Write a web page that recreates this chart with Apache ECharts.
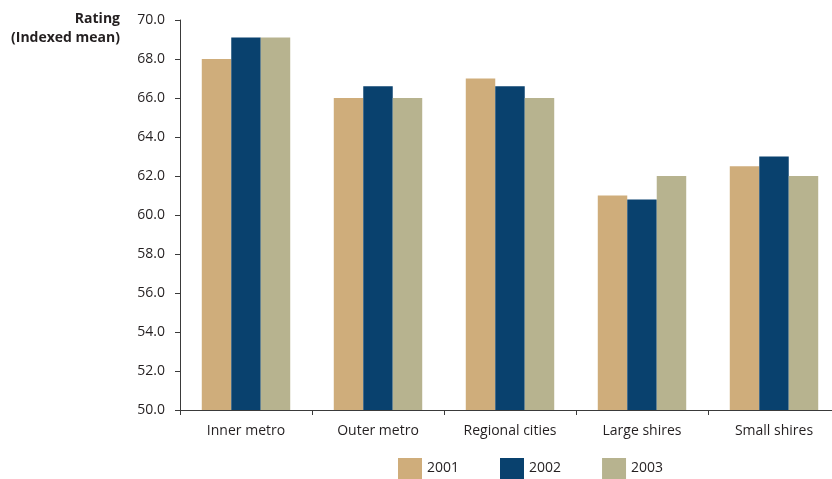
<!DOCTYPE html>
<html>
<head>
<meta charset="utf-8">
<title>Rating by area type</title>
<script src="https://cdn.jsdelivr.net/npm/echarts@6/dist/echarts.min.js"></script>
<style>
  html, body { margin: 0; padding: 0; background: #fff; overflow: hidden; }
  /* the drawing is a little wider than the page; the last category runs off the right edge */
  #chart { width: 840px; height: 479px; }
</style>
</head>
<body>
<div id="chart"></div>
<script>
// Area types along the x axis
const categories = ['Inner metro', 'Outer metro', 'Regional cities', 'Large shires', 'Small shires'];

// Indexed mean rating per year
const years = ['2001', '2002', '2003'];
const values2001 = [68.0, 66.0, 67.0, 61.0, 62.5];
const values2002 = [69.1, 66.6, 66.6, 60.8, 63.0];
const values2003 = [69.1, 66.0, 66.0, 62.0, 62.0];

// Value axis range
const yMin = 50;
const yMax = 70;
const yStep = 2;

const colors = ['#CFAD7B', '#09416E', '#B7B38F'];
const FONT = '"Open Sans", "Noto Sans", sans-serif';

const chart = echarts.init(document.getElementById('chart'), null, { renderer: 'canvas' });

const seriesData = [values2001, values2002, values2003];

chart.setOption({
  animation: false,
  color: colors,
  textStyle: { fontFamily: FONT },
  grid: { left: 180, top: 20, right: 0, bottom: 69, containLabel: false },
  graphic: [{
    type: 'text',
    x: 120,
    y: 10,
    style: {
      text: 'Rating\n(Indexed mean)',
      textAlign: 'right',
      font: 'bold 14px ' + FONT,
      fill: '#231F20',
      lineHeight: 19
    }
  }],
  legend: {
    data: years,
    bottom: 0,
    left: 398,
    itemWidth: 24,
    itemHeight: 21,
    itemGap: 41,
    icon: 'rect',
    textStyle: { fontSize: 14, color: '#231F20', fontFamily: FONT },
    padding: 0
  },
  xAxis: {
    type: 'category',
    data: categories,
    axisLine: { show: true, lineStyle: { color: '#3a3a3a', width: 1 } },
    axisTick: { show: true, alignWithLabel: false, length: 5, lineStyle: { color: '#3a3a3a' } },
    axisLabel: { color: '#231F20', fontSize: 14, margin: 14, fontFamily: FONT },
    splitLine: { show: false }
  },
  yAxis: {
    type: 'value',
    min: yMin,
    max: yMax,
    interval: yStep,
    axisLine: { show: true, lineStyle: { color: '#3a3a3a', width: 1 } },
    axisTick: { show: true, length: 5, lineStyle: { color: '#3a3a3a' } },
    axisLabel: {
      color: '#231F20',
      fontSize: 14,
      margin: 15,
      fontFamily: FONT,
      formatter: v => v.toFixed(1)
    },
    splitLine: { show: false }
  },
  series: years.map((name, i) => ({
    name,
    type: 'bar',
    data: seriesData[i],
    barGap: '0%',
    barCategoryGap: '33%',
    itemStyle: { color: colors[i] }
  }))
});
</script>
</body>
</html>
